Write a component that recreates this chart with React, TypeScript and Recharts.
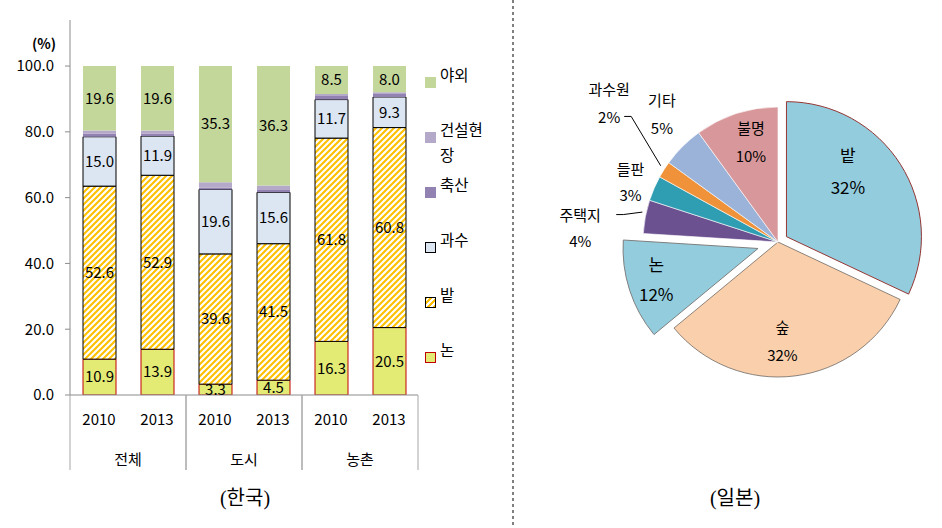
import React from "react";
import { BarChart, Bar, XAxis, YAxis, LabelList, PieChart, Pie, Cell } from "recharts";

// ---- bar chart data (한국) ----
const years = ["2010", "2013", "2010", "2013", "2010", "2013"];
const regions = ["전체", "전체", "도시", "도시", "농촌", "농촌"];
const paddy = [10.9, 13.9, 3.3, 4.5, 16.3, 20.5];
const field = [52.6, 52.9, 39.6, 41.5, 61.8, 60.8];
const orchard = [15.0, 11.9, 19.6, 15.6, 11.7, 9.3];
const livestock = [0.9, 0.8, 0.6, 0.7, 1.1, 0.9];
const construction = [1.0, 0.9, 1.6, 1.4, 0.6, 0.5];
const outdoor = [19.6, 19.6, 35.3, 36.3, 8.5, 8.0];
const yTicks = [0, 20, 40, 60, 80, 100];

// ---- pie data (일본) ----
const pieNames = ["밭", "숲", "논", "주택지", "들판", "과수원", "기타", "불명"];
const pieValues = [32, 32, 12, 4, 3, 2, 5, 10];

const FONT = '"Noto Sans CJK KR", "Noto Sans", sans-serif';

// series in stacking order (bottom -> top)
const series = [
  { key: "논", values: paddy, fill: "#E4EB75", stroke: "#C00000", label: true, marker: "#E4EB75" },
  { key: "밭", values: field, fill: "url(#hatch)", stroke: "#000", label: true, marker: "hatch" },
  { key: "과수", values: orchard, fill: "#DCE6F2", stroke: "#000", label: true, marker: "#DCE6F2" },
  { key: "축산", values: livestock, fill: "#9282B2", stroke: "none", label: false, marker: "#9282B2" },
  { key: "건설현장", values: construction, fill: "#B5A9CA", stroke: "none", label: false, marker: "#B5A9CA" },
  { key: "야외", values: outdoor, fill: "#C4D79B", stroke: "none", label: true, marker: "#C4D79B" },
];

const barData = years.map((y, i) => {
  const row: Record<string, any> = { id: i, year: y, region: regions[i] };
  series.forEach((s) => (row[s.key] = s.values[i]));
  return row;
});

const BAR_W = 500;
const BAR_H = 528;
const BAR_MARGIN = { top: 20, right: 82, bottom: 58, left: 0 };
const Y_AXIS_W = 70;
const CAT_W = (BAR_W - BAR_MARGIN.left - BAR_MARGIN.right - Y_AXIS_W) / years.length;

const CategoryTick = (props: any) => {
  const { x, y, index } = props;
  const half = CAT_W / 2;
  const first = index === 0 || regions[index] !== regions[index - 1];
  const last = index === regions.length - 1 || regions[index + 1] !== regions[index];
  return (
    <g>
      <text x={x} y={y + 23} textAnchor="middle" dominantBaseline="central" fontSize={15} fill="#000" fontFamily={FONT}>
        {years[index]}
      </text>
      {first && <line x1={x - half} x2={x - half} y1={y} y2={y + 75} stroke="#A6A6A6" />}
      {last && <line x1={x + half} x2={x + half} y1={y} y2={y + 75} stroke="#A6A6A6" />}
      {first && (
        <text x={x + half} y={y + 63} textAnchor="middle" dominantBaseline="central" fontSize={15} fill="#000" fontFamily={FONT}>
          {regions[index]}
        </text>
      )}
    </g>
  );
};

// ---- pie geometry helpers ----
const CX = 251;
const CY = 237;
const R = 135;
const explode: Record<number, number> = { 0: 10, 2: 21 };
const pieTotal = pieValues.reduce((a, b) => a + b, 0);
const pieMids: number[] = [];
{
  let acc = 0;
  pieValues.forEach((v) => {
    pieMids.push(((acc + v / 2) / pieTotal) * 360);
    acc += v;
  });
}
const offsetOf = (i: number) => {
  const e = explode[i] || 0;
  const a = (pieMids[i] * Math.PI) / 180;
  return { dx: e * Math.sin(a), dy: -e * Math.cos(a) };
};

const pieFill = ["#93CDDD", "#FAD0AC", "#93CDDD", "#6B5190", "#2F9DB2", "#F0923A", "#9BB3D9", "#D8979A"];
const pieStroke = ["#943634", "#404040", "#7F7F7F", "#fff", "#fff", "#fff", "#fff", "#fff"];

// label placement: distance from centre, angle nudge, font size, line gap
const pieLabelStyle = [
  { dist: 90, nudge: -10, size: 17, gap: 16 },
  { dist: 104, nudge: 2, size: 15, gap: 14 },
  { dist: 103, nudge: -2, size: 17, gap: 15 },
  { dist: 193, nudge: -8, size: 15, gap: 13, leader: { x: 36, line: -13 } },
  { dist: 153, nudge: -2, size: 15, gap: 13 },
  { dist: 212, nudge: 7, size: 15, gap: 14, leader: { x: 15, line: 14 } },
  { dist: 166, nudge: 3, size: 15, gap: 14 },
  { dist: 98, nudge: 5, size: 15, gap: 14 },
];

const renderPieLabel = (p: any) => {
  const { index } = p;
  const st: any = pieLabelStyle[index];
  const off = offsetOf(index);
  const theta = ((pieMids[index] + st.nudge) * Math.PI) / 180;
  const lx = CX + off.dx + st.dist * Math.sin(theta);
  const ly = CY + off.dy - st.dist * Math.cos(theta);
  let leader = null;
  if (st.leader) {
    const m = (pieMids[index] * Math.PI) / 180;
    const ex = CX + (R - 2) * Math.sin(m);
    const ey = CY - (R - 2) * Math.cos(m);
    const sx = lx + st.leader.x;
    const sy = ly + st.leader.line;
    leader = <polyline points={`${sx},${sy} ${sx + 7},${sy} ${ex},${ey}`} fill="none" stroke="#000" strokeWidth={1} />;
  }
  return (
    <g key={`lab-${index}`}>
      <text x={lx} y={ly - st.gap} textAnchor="middle" dominantBaseline="central" fontSize={st.size} fill="#000" fontFamily={FONT}>
        {pieNames[index]}
      </text>
      <text x={lx} y={ly + st.gap} textAnchor="middle" dominantBaseline="central" fontSize={st.size} fill="#000" fontFamily={FONT}>
        {`${pieValues[index]}%`}
      </text>
      {leader}
    </g>
  );
};

const pieData = pieNames.map((n, i) => ({ name: n, value: pieValues[i] }));

const LegendMarker = ({ marker, stroke }: { marker: string; stroke: string }) => {
  const style: React.CSSProperties = {
    width: 11,
    height: 11,
    boxSizing: "border-box",
    border: stroke === "none" ? "none" : `1.5px solid ${stroke}`,
    background:
      marker === "hatch"
        ? "repeating-linear-gradient(-45deg, #FFC000 0 2px, #fff 2px 4px)"
        : marker,
    display: "inline-block",
  };
  return <span style={style} />;
};

export default function App() {
  const legendItems = [...series].reverse();
  return (
    <div style={{ position: "absolute", left: 0, top: 0, width: 942, height: 528, background: "#fff", fontFamily: FONT }}>
      {/* 한국 */}
      <div style={{ position: "absolute", left: 0, top: 0 }}>
        <BarChart width={BAR_W} height={BAR_H} data={barData} margin={BAR_MARGIN}>
          <defs>
            <pattern id="hatch" patternUnits="userSpaceOnUse" width={6} height={6}>
              <rect width={6} height={6} fill="#fff" />
              <path d="M-1.5,1.5 l3,-3 M0,6 l6,-6 M4.5,7.5 l3,-3" stroke="#FFC000" strokeWidth={2.1} />
            </pattern>
          </defs>
          <XAxis
            dataKey="id"
            height={75}
            tickLine={false}
            tickSize={0}
            tickMargin={0}
            axisLine={{ stroke: "#8C8C8C" }}
            tick={<CategoryTick />}
            interval={0}
          />
          <YAxis
            width={Y_AXIS_W}
            domain={[0, 114]}
            ticks={yTicks}
            allowDataOverflow
            tickFormatter={(v: number) => v.toFixed(1)}
            axisLine={{ stroke: "#8C8C8C" }}
            tickLine={{ stroke: "#8C8C8C" }}
            tickSize={5}
            tickMargin={11}
            tick={{ fontSize: 15, fill: "#000", fontFamily: FONT }}
          />
          {series.map((s) => (
            <Bar
              key={s.key}
              dataKey={s.key}
              stackId="a"
              fill={s.fill}
              stroke={s.stroke}
              strokeWidth={1}
              barSize={33}
              isAnimationActive={false}
            >
              {s.label && (
                <LabelList dataKey={s.key} position="center" fontSize={15} fill="#000" fontFamily={FONT} formatter={(v: any) => Number(v).toFixed(1)} />
              )}
            </Bar>
          ))}
        </BarChart>
        <div style={{ position: "absolute", left: 32, top: 33, fontSize: 14, fontWeight: "bold", color: "#000" }}>(%)</div>
        <div style={{ position: "absolute", left: 425, top: 62 }}>
          {legendItems.map((s) => (
            <div key={s.key} style={{ height: 55, position: "relative" }}>
              <div style={{ position: "absolute", left: 0, top: 7 }}>
                <LegendMarker marker={s.marker} stroke={s.stroke} />
              </div>
              <div style={{ position: "absolute", left: 15, top: 0, width: 50, fontSize: 15.5, lineHeight: "25px", wordBreak: "break-all", color: "#000" }}>
                {s.key}
              </div>
            </div>
          ))}
        </div>
        <div style={{ position: "absolute", left: 200, top: 482, width: 90, textAlign: "center", fontSize: 20, fontFamily: '"Liberation Serif", "Noto Sans CJK KR", serif' }}>
          (한국)
        </div>
      </div>

      {/* divider */}
      <svg style={{ position: "absolute", left: 510, top: 0 }} width={6} height={528}>
        <line x1={3} x2={3} y1={0} y2={528} stroke="#000" strokeDasharray="3 3" />
      </svg>

      {/* 일본 */}
      <div style={{ position: "absolute", left: 522, top: 0 }}>
        <PieChart width={420} height={528}>
          <Pie
            data={pieData}
            dataKey="value"
            nameKey="name"
            cx={CX}
            cy={CY}
            outerRadius={R}
            startAngle={90}
            endAngle={-270}
            label={renderPieLabel}
            labelLine={false}
            isAnimationActive={false}
          >
            {pieData.map((d, i) => (
              <Cell
                key={d.name}
                fill={explode[i] ? "transparent" : pieFill[i]}
                stroke={explode[i] ? "none" : pieStroke[i]}
                strokeWidth={0.6}
              />
            ))}
          </Pie>
          {Object.keys(explode).map((k) => {
            const idx = Number(k);
            const off = offsetOf(idx);
            return (
              <Pie
                key={`ex-${k}`}
                data={pieData}
                dataKey="value"
                nameKey="name"
                cx={CX + off.dx}
                cy={CY + off.dy}
                outerRadius={R}
                startAngle={90}
                endAngle={-270}
                isAnimationActive={false}
              >
                {pieData.map((d, i) => (
                  <Cell
                    key={d.name}
                    fill={i === idx ? pieFill[i] : "transparent"}
                    stroke={i === idx ? pieStroke[i] : "none"}
                    strokeWidth={1}
                  />
                ))}
              </Pie>
            );
          })}
        </PieChart>
        <div style={{ position: "absolute", left: 168, top: 482, width: 90, textAlign: "center", fontSize: 20, fontFamily: '"Liberation Serif", "Noto Sans CJK KR", serif' }}>
          (일본)
        </div>
      </div>
    </div>
  );
}
